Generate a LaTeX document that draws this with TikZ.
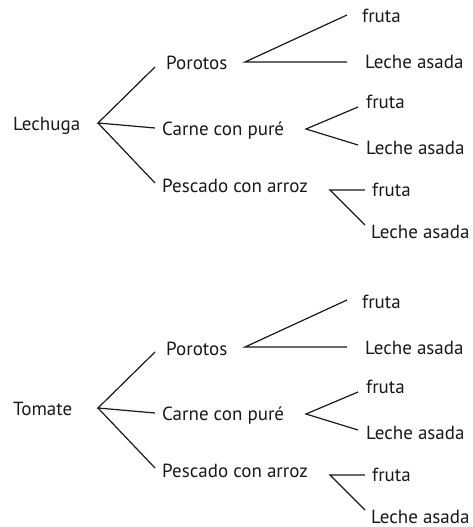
\documentclass[tikz,border=0pt]{standalone}
\usepackage{fontspec}
\setmainfont{PT Sans}
\begin{document}
\begin{tikzpicture}[x=1pt,y=-1pt,
  lbl/.style={anchor=base west,inner sep=0pt,font=\fontsize{19}{22}\selectfont,text=black!90},
  br/.style={line width=1.2pt,black!90}]
\useasboundingbox (0,0) rectangle (472,527);
\foreach \dy/\root/\pre in {0/Lechuga/a,285/Tomate/b}{
\begin{scope}[yshift=-\dy pt]
  \node[lbl] (\pre r) at (13,130) {\root};
  \coordinate (\pre R) at (98,123);
  \node[lbl] (\pre p) at (166,70) {Porotos};
  \node[lbl] (\pre c) at (162,135) {Carne con puré};
  \node[lbl] (\pre s) at (162,192) {Pescado con arroz};
  \coordinate (\pre pe) at (155,67);
  \coordinate (\pre ce) at (155,128);
  \coordinate (\pre se) at (155,183);
  \draw[br] (\pre pe) -- (\pre R) -- (\pre ce);
  \draw[br] (\pre R) -- (\pre se);
  % Porotos
  \coordinate (\pre pv) at (245,62);
  \coordinate (\pre pf) at (347,15);
  \coordinate (\pre pl) at (347,62);
  \node[lbl] (\pre pft) at (362,23) {fruta};
  \node[lbl] (\pre plt) at (365,69) {Leche asada};
  \draw[br] (\pre pf) -- (\pre pv) -- (\pre pl);
  % Carne
  \coordinate (\pre cv) at (306,129);
  \coordinate (\pre cf) at (358,107);
  \coordinate (\pre cl) at (358,145);
  \node[lbl] (\pre cft) at (366,108) {fruta};
  \node[lbl] (\pre clt) at (366,154) {Leche asada};
  \draw[br] (\pre cf) -- (\pre cv) -- (\pre cl);
  % Pescado
  \coordinate (\pre sv) at (330,190);
  \coordinate (\pre sf) at (365,190);
  \coordinate (\pre sl) at (365,225);
  \node[lbl] (\pre sft) at (372,196) {fruta};
  \node[lbl] (\pre slt) at (371,238) {Leche asada};
  \draw[br] (\pre sf) -- (\pre sv) -- (\pre sl);
\end{scope}}
\end{tikzpicture}
\end{document}
